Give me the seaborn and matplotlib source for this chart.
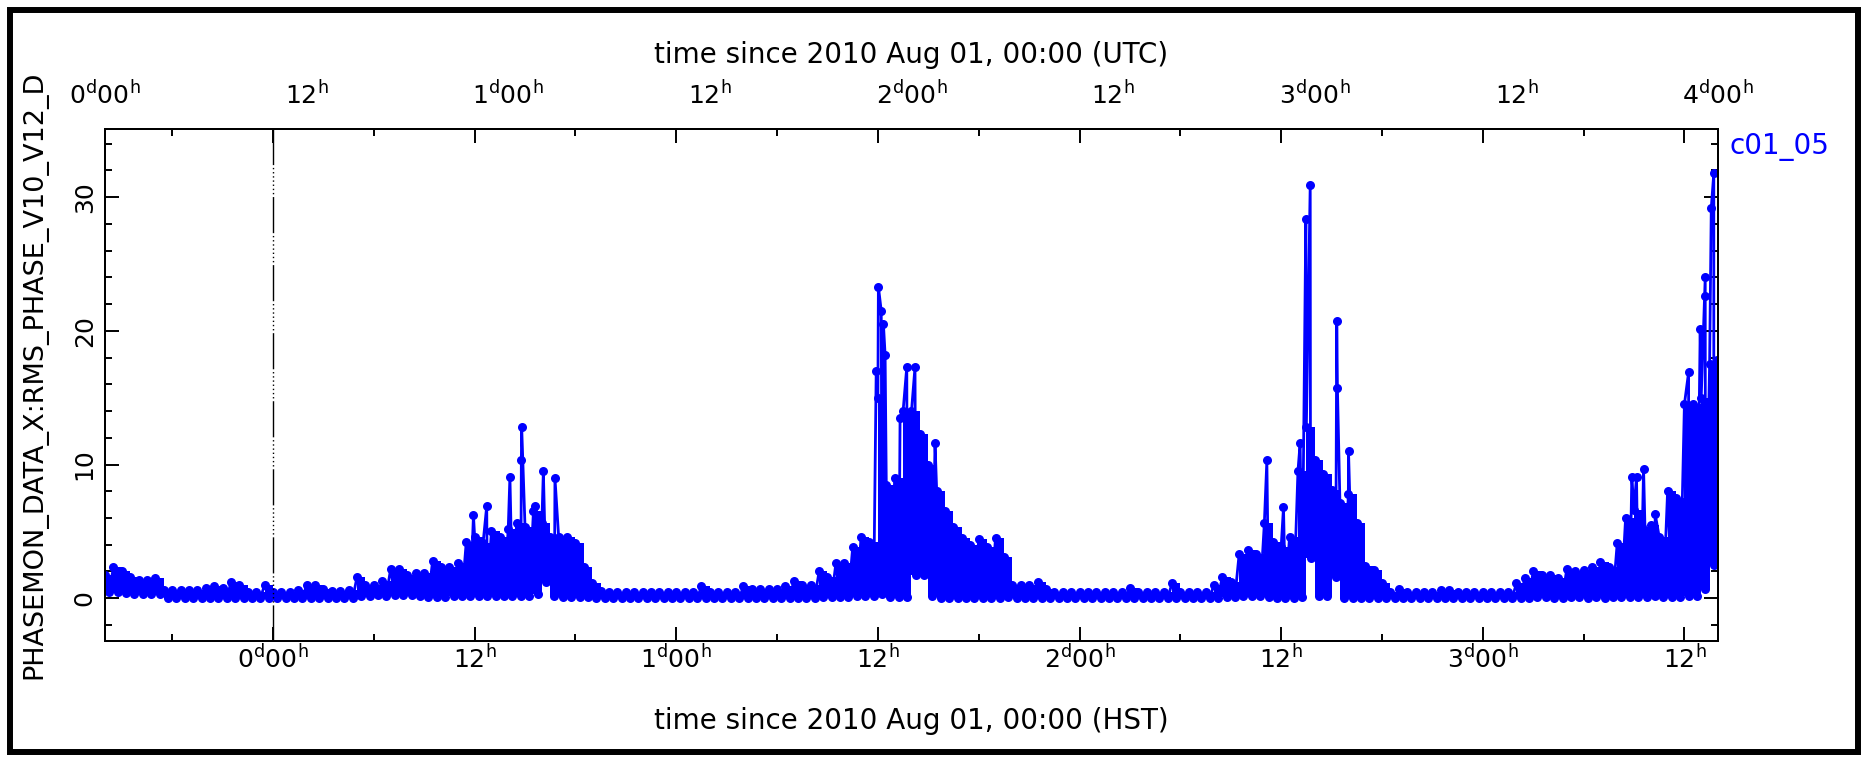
import numpy as np
import pandas as pd
import matplotlib
matplotlib.use('Agg')
import matplotlib.pyplot as plt
import seaborn as sns
from matplotlib.patches import Rectangle

# half-hour bins, hours since 2010 Aug 01 00:00 HST (HST = UTC - 10 h)
bin_start = -10.0
bin_width = 0.5

# upper edge of the dense band in each bin
band_hi = [
    1.7, 2.3, 2.0, 1.6, 1.35, 1.35, 1.5, 0.6, 0.6, 0.6, 0.6, 0.6,
    0.8, 0.9, 0.75, 1.2, 1.0, 0.5, 0.5, 1.0, 0.45, 0.45, 0.45, 0.6,
    1.0, 1.0, 0.7, 0.55, 0.55, 0.6, 1.6, 1.0, 1.0, 1.25, 2.2, 2.2,
    1.7, 1.9, 1.85, 2.8, 2.3, 2.3, 2.6, 4.2, 4.6, 4.1, 5.0, 4.6,
    5.2, 5.6, 5.3, 6.5, 5.6, 4.6, 4.6, 4.6, 4.1, 2.3, 1.1, 0.55,
    0.5, 0.5, 0.5, 0.5, 0.5, 0.5, 0.5, 0.5, 0.5, 0.5, 0.5, 0.9,
    0.5, 0.5, 0.5, 0.5, 0.9, 0.7, 0.7, 0.7, 0.7, 0.9, 1.3, 1.0,
    1.0, 2.0, 1.6, 2.6, 2.6, 3.8, 4.6, 4.2, 15.0, 8.5, 9.0, 14.0,
    14.0, 12.3, 10.0, 8.0, 6.5, 5.3, 4.5, 4.0, 4.4, 3.8, 4.5, 3.1,
    1.0, 1.0, 1.0, 1.2, 0.7, 0.5, 0.5, 0.5, 0.45, 0.45, 0.45, 0.45,
    0.45, 0.45, 0.75, 0.45, 0.45, 0.45, 0.45, 1.1, 0.45, 0.45, 0.45, 0.45,
    1.0, 1.6, 1.2, 3.3, 3.6, 3.3, 5.6, 4.2, 3.8, 4.6, 9.5, 12.8,
    10.3, 9.3, 8.1, 7.1, 7.8, 5.6, 2.4, 2.1, 1.1, 0.5, 0.7, 0.5,
    0.45, 0.45, 0.45, 0.6, 0.6, 0.45, 0.45, 0.45, 0.45, 0.45, 0.45, 0.45,
    1.1, 1.5, 2.0, 1.7, 1.7, 1.5, 2.2, 2.0, 2.1, 2.3, 2.7, 2.3,
    4.1, 6.0, 6.6, 5.3, 5.5, 4.6, 8.0, 7.5, 14.5, 14.5, 15.0, 17.5,
]

# lower edge of the dense band in each bin
band_lo = [
    0.45, 0.45, 0.4, 0.35, 0.35, 0.3, 0.3, 0.0, 0.0, 0.05, 0.0, 0.0,
    0.0, 0.05, 0.0, 0.05, 0.0, 0.0, 0.0, 0.05, 0.0, 0.0, 0.0, 0.0,
    0.0, 0.0, 0.05, 0.0, 0.0, 0.0, 0.2, 0.2, 0.25, 0.2, 0.25, 0.25,
    0.25, 0.2, 0.1, 0.1, 0.1, 0.15, 0.2, 0.2, 0.2, 0.2, 0.2, 0.2,
    0.2, 0.2, 0.2, 0.3, 1.2, 0.2, 0.1, 0.1, 0.1, 0.1, 0.05, 0.0,
    0.0, 0.0, 0.0, 0.0, 0.0, 0.0, 0.0, 0.0, 0.0, 0.0, 0.0, 0.0,
    0.0, 0.0, 0.0, 0.0, 0.05, 0.0, 0.0, 0.0, 0.0, 0.05, 0.05, 0.05,
    0.05, 0.1, 0.1, 0.1, 0.1, 0.15, 0.15, 0.2, 0.35, 0.1, 0.1, 0.1,
    1.7, 1.7, 0.2, 0.0, 0.0, 0.0, 0.0, 0.0, 0.05, 0.0, 0.05, 0.1,
    0.05, 0.0, 0.05, 0.0, 0.0, 0.0, 0.0, 0.0, 0.0, 0.0, 0.0, 0.0,
    0.0, 0.0, 0.0, 0.0, 0.0, 0.0, 0.0, 0.0, 0.0, 0.0, 0.0, 0.0,
    0.05, 0.1, 0.1, 0.2, 0.2, 0.2, 0.1, 0.0, 0.0, 0.0, 0.1, 3.0,
    0.2, 0.2, 1.6, 0.0, 0.0, 0.0, 0.0, 0.0, 0.0, 0.0, 0.0, 0.0,
    0.0, 0.0, 0.0, 0.0, 0.0, 0.0, 0.0, 0.0, 0.0, 0.0, 0.0, 0.0,
    0.0, 0.05, 0.1, 0.1, 0.05, 0.05, 0.1, 0.1, 0.05, 0.1, 0.05, 0.1,
    0.1, 0.1, 0.1, 0.1, 0.2, 0.1, 0.1, 0.1, 0.2, 0.2, 0.7, 2.5,
]

# isolated spikes (hour HST, value)
spike_t = [11.93, 12.72, 14.1, 14.78, 14.8, 15.6, 16.09, 16.78,
           35.9, 36.03, 36.2, 36.33, 36.43, 37.32, 37.72, 38.21, 39.4,
           59.15, 60.14, 61.13, 61.47, 61.73, 63.31, 63.35, 64.01,
           80.87, 81.15, 81.57, 82.26, 84.25, 84.94, 85.2, 85.24, 85.6, 85.75, 85.95]
spike_v = [6.2, 6.9, 9.1, 10.3, 12.8, 6.9, 9.5, 9.0,
           17.0, 23.3, 21.5, 20.5, 18.2, 13.5, 17.3, 17.3, 11.6,
           10.3, 6.8, 11.6, 28.4, 30.9, 20.7, 15.7, 11.0,
           9.1, 9.1, 9.7, 6.3, 16.9, 20.1, 22.6, 24.0, 29.2, 31.8, 17.8]

t_bin = bin_start + bin_width * np.arange(len(band_hi))
df = pd.concat([
    pd.DataFrame({'hst': t_bin, 'val': band_hi}),
    pd.DataFrame({'hst': t_bin + bin_width / 2, 'val': band_lo}),
    pd.DataFrame({'hst': spike_t, 'val': spike_v}),
]).sort_values('hst')

major_hst = [0, 12, 24, 36, 48, 60, 72, 84]
major_hst_labels = [r'$0^{d}00^{h}$', r'$12^{h}$', r'$1^{d}00^{h}$', r'$12^{h}$',
                    r'$2^{d}00^{h}$', r'$12^{h}$', r'$3^{d}00^{h}$', r'$12^{h}$']
major_utc = [0, 12, 24, 36, 48, 60, 72, 84, 96]
major_utc_labels = [r'$0^{d}00^{h}$', r'$12^{h}$', r'$1^{d}00^{h}$', r'$12^{h}$',
                    r'$2^{d}00^{h}$', r'$12^{h}$', r'$3^{d}00^{h}$', r'$12^{h}$',
                    r'$4^{d}00^{h}$']

sns.set_style('ticks')
plt.rcParams['font.family'] = ['DejaVu Sans']
plt.rcParams['mathtext.default'] = 'regular'
plt.rcParams.update({'text.color': 'black', 'axes.labelcolor': 'black',
                     'xtick.color': 'black', 'ytick.color': 'black'})

blue = '#0000ff'
fig = plt.figure(figsize=(18.68, 7.59), dpi=100)
ax = fig.add_axes([0.0562, 0.1555, 0.8635, 0.6746])

# dense band of samples
ax.fill_between(np.append(t_bin, 86.0), np.append(band_lo, band_lo[-1]),
                np.append(band_hi, band_hi[-1]), step='post', color=blue, lw=0)
sns.lineplot(data=df, x='hst', y='val', ax=ax, estimator=None, sort=False,
             color=blue, lw=2.0, marker='o', markersize=6.5,
             markeredgewidth=0, legend=False)

ax.axvline(0, color='black', lw=1.0,
           linestyle=(0, (26, 2, 1, 2, 1, 2, 1, 2, 1, 2, 1, 2, 1, 2, 1, 2)))

ax.set_xlim(-10, 86)
ax.set_ylim(-3.2, 35.1)
ax.set_xticks(major_hst)
ax.set_xticklabels(major_hst_labels)
ax.set_xticks(np.arange(-6, 86, 12), minor=True)
ax.set_yticks([0, 10, 20, 30])
ax.set_yticks(np.arange(-2, 35, 2), minor=True)

ax2 = ax.twiny()
ax2.set_xlim(0, 96)
ax2.set_xticks(major_utc)
ax2.set_xticklabels(major_utc_labels)
ax2.tick_params(axis='x', length=0, pad=14, labelsize=18)
ax2.set_xlabel('time since 2010 Aug 01, 00:00 (UTC)', fontsize=20, labelpad=13)

ax.tick_params(which='both', direction='in', top=True, right=True,
               labeltop=False, width=1.4, labelsize=18, color='black')
ax.tick_params(which='major', length=10)
ax.tick_params(which='minor', length=5)
ax.tick_params(axis='x', pad=3)
ax.tick_params(axis='y', pad=6)
for lbl in ax.get_yticklabels():
    lbl.set_rotation(90)
    lbl.set_va('center')

ax.set_xlabel('time since 2010 Aug 01, 00:00 (HST)', fontsize=20, labelpad=24)
ax.set_ylabel('PHASEMON_DATA_X:RMS_PHASE_V10_V12_D', fontsize=19.5)
ax.yaxis.set_label_coords(-0.036, 0.52)

for a in (ax, ax2):
    for s in a.spines.values():
        s.set_linewidth(1.4)
        s.set_color('black')

ax.text(1.0074, 0.965, 'c01_05', transform=ax.transAxes, color=blue,
        fontsize=20, ha='left', va='center')

fig.patches.append(Rectangle((0.0054, 0.009), 0.9892, 0.978, transform=fig.transFigure,
                             fill=False, edgecolor='black', lw=4.3))

fig.savefig('out.png', dpi=100)
